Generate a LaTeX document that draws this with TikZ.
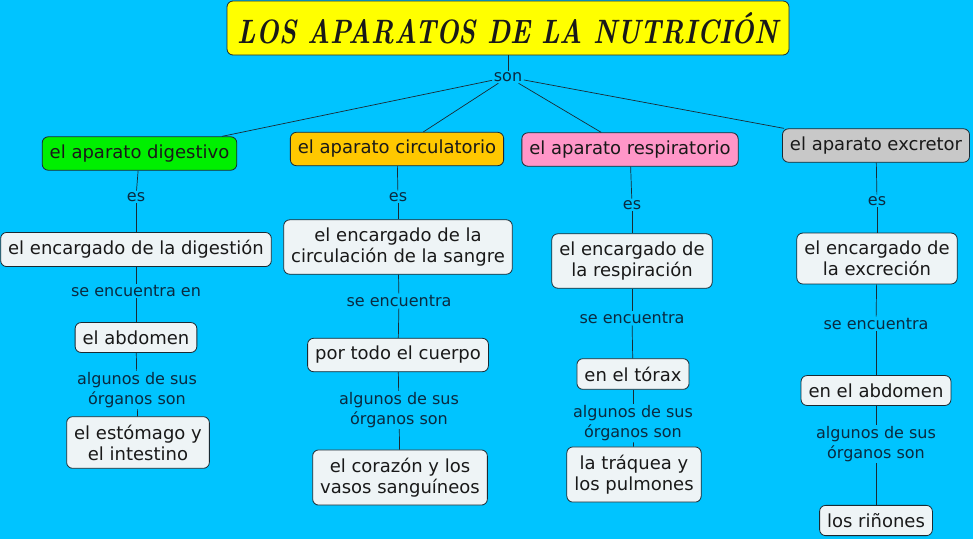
\documentclass[tikz,border=0pt]{standalone}
\usepackage{fontspec}
\setmainfont{DejaVu Sans}
\newfontfamily\titulofont{Latin Modern Roman}
\usepackage{graphicx}
\usetikzlibrary{positioning}
\definecolor{fondo}{HTML}{00C4FF}
\definecolor{amarillo}{HTML}{FFFF00}
\definecolor{verde}{HTML}{00F000}
\definecolor{naranja}{HTML}{FFC800}
\definecolor{rosa}{HTML}{FF96C8}
\definecolor{gris}{HTML}{C8C8C8}
\definecolor{celeste}{HTML}{EEF4F6}
\definecolor{azulenlace}{HTML}{0A2A40}
\definecolor{borde}{HTML}{1A2A33}

\begin{document}
\begin{tikzpicture}[x=1pt,y=-1pt,
    concepto/.style={draw=borde, line width=0.8pt, rounded corners=6pt, fill=celeste,
      align=center, text=black!90, inner xsep=7.5pt, inner ysep=8pt,
      font=\fontsize{18}{21}\selectfont},
    enlace/.style={align=center, text=azulenlace, inner sep=1.5pt,
      font=\fontsize{16}{19.5}\selectfont},
    linea/.style={draw=borde, line width=0.7pt}]
  % background, 973 x 539
  \fill[fondo] (0,0) rectangle (973,539);
  \useasboundingbox (0,0) rectangle (973,539);
  % title
  \node[concepto, fill=amarillo, minimum width=562pt, minimum height=54pt] (tit) at (508,28)
    {\resizebox{540pt}{31pt}{\titulofont\bfseries\itshape LOS APARATOS DE LA NUTRICIÓN}};
  \node[enlace] (son) at (508,77) {son};
  % the four systems
  \node[concepto, fill=verde]   (dig) at (139.5,153.5) {el aparato digestivo};
  \node[concepto, fill=naranja] (cir) at (397,149)     {el aparato circulatorio};
  \node[concepto, fill=rosa]    (res) at (630,149.5)   {el aparato respiratorio};
  \node[concepto, fill=gris]    (exc) at (876,145.5)   {el aparato excretor};
  % linking words
  \node[enlace] (es1) at (136,197) {es};
  \node[enlace] (es2) at (398,197) {es};
  \node[enlace] (es3) at (632,205) {es};
  \node[enlace] (es4) at (877,201) {es};
  \node[enlace] (se1) at (136,291) {se encuentra en};
  \node[enlace] (se2) at (399,301) {se encuentra};
  \node[enlace] (se3) at (632,318) {se encuentra};
  \node[enlace] (se4) at (876,324) {se encuentra};
  \foreach \n/\x/\y in {1/137/390,2/399/410,3/633/423,4/876/444}
    {\node[enlace] (al\n) at (\x,\y) {algunos de sus\\órganos son};}
  % function
  \node[concepto] (dig1) at (136,249.5) {el encargado de la digestión};
  \node[concepto] (cir1) at (398,247)   {el encargado de la\\circulación de la sangre};
  \node[concepto] (res1) at (632,261)   {el encargado de\\la respiración};
  \node[concepto] (exc1) at (877,258.5) {el encargado de\\la excreción};
  % place
  \node[concepto] (dig2) at (136,337.5) {el abdomen};
  \node[concepto] (cir2) at (398,355)   {por todo el cuerpo};
  \node[concepto] (res2) at (633,374)   {en el tórax};
  \node[concepto] (exc2) at (876,390.5) {en el abdomen};
  % organs
  \node[concepto] (dig3) at (138,442.5) {el estómago y\\el intestino};
  \node[concepto] (cir3) at (400,477.5) {el corazón y los\\vasos sanguíneos};
  \node[concepto] (res3) at (634,474.5) {la tráquea y\\los pulmones};
  \node[concepto] (exc3) at (876,520.5) {los riñones};
  % connectors
  \draw[linea] (tit) -- (son);
  \foreach \c/\n in {dig/1,cir/2,res/3,exc/4}
    {\draw[linea] (son) -- (\c);
     \draw[linea] (\c) -- (es\n);
     \draw[linea] (es\n) -- (\c1);
     \draw[linea] (\c1) -- (se\n);
     \draw[linea] (se\n) -- (\c2);
     \draw[linea] (\c2) -- (al\n);
     \draw[linea] (al\n) -- (\c3);}
\end{tikzpicture}
\end{document}
